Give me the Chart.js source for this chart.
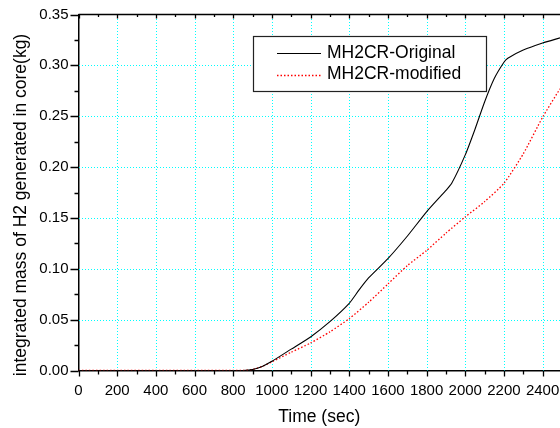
<!DOCTYPE html>
<html>
<head>
<meta charset="utf-8">
<script src="https://cdn.jsdelivr.net/npm/chart.js@4"></script>
<style>
  html, body { margin: 0; padding: 0; background: #fff; }
  #h2Chart { display: block; }
</style>
</head>
<body>
<canvas id="h2Chart" width="560" height="428"></canvas>
<script>
// values
const timeOriginal = [0, 200, 400, 600, 800, 850, 900, 950, 1000, 1100, 1200, 1300, 1400, 1450, 1500, 1600, 1700, 1800, 1900, 1930, 2000, 2050, 2100, 2150, 2200, 2220, 2300, 2400, 2490];
const massOriginal = [0, 0, 0, 0, 0, 0, 0.001, 0.004, 0.009, 0.021, 0.033, 0.048, 0.066, 0.079, 0.091, 0.110, 0.132, 0.156, 0.177, 0.184, 0.212, 0.237, 0.264, 0.287, 0.303, 0.307, 0.315, 0.322, 0.327];

const timeModified = [0, 200, 400, 600, 800, 850, 900, 950, 1000, 1100, 1200, 1300, 1400, 1500, 1600, 1700, 1800, 1900, 2000, 2100, 2200, 2300, 2400, 2490];
const massModified = [0, 0, 0, 0, 0, 0, 0.001, 0.004, 0.0085, 0.018, 0.027, 0.038, 0.051, 0.067, 0.085, 0.103, 0.118, 0.135, 0.151, 0.166, 0.184, 0.213, 0.249, 0.277];

const seriesNames = ["MH2CR-Original", "MH2CR-modified"];
const xTickValues = [0, 100, 200, 300, 400, 500, 600, 700, 800, 900, 1000, 1100, 1200, 1300, 1400, 1500, 1600, 1700, 1800, 1900, 2000, 2100, 2200, 2300, 2400];
const yTickValues = [0, 0.025, 0.05, 0.075, 0.10, 0.125, 0.15, 0.175, 0.20, 0.225, 0.25, 0.275, 0.30, 0.325, 0.35];
const xTitle = "Time (sec)";
const yTitle = "integrated mass of H2 generated in core(kg)";

const FONT = "'Liberation Sans', Arial, sans-serif";
const GRID = "#00ffff";

function toPoints(xs, ys) {
    return xs.map((x, i) => ({ x: x, y: ys[i] }));
}

function isMajorX(v) { return Math.round(v) % 200 === 0; }
function isMajorY(v) { return Math.abs(v / 0.05 - Math.round(v / 0.05)) < 1e-6; }

// crisp dotted cyan grid
const gridPlugin = {
    id: "dottedGrid",
    beforeDatasetsDraw(chart) {
        const ctx = chart.ctx;
        const area = chart.chartArea;
        const xs = chart.scales.x;
        const ys = chart.scales.y;
        ctx.save();
        ctx.strokeStyle = GRID;
        ctx.lineWidth = 1;
        ctx.setLineDash([1, 2]);
        ctx.beginPath();
        xTickValues.forEach(v => {
            if (!isMajorX(v) || v === 0) return;
            const px = Math.round(xs.getPixelForValue(v)) + 0.5;
            ctx.moveTo(px, Math.round(area.bottom));
            ctx.lineTo(px, Math.round(area.top));
        });
        yTickValues.forEach(v => {
            if (!isMajorY(v) || v === 0 || v >= 0.35) return;
            const py = Math.round(ys.getPixelForValue(v)) + 0.5;
            ctx.moveTo(Math.round(area.left), py);
            ctx.lineTo(Math.round(area.right), py);
        });
        ctx.stroke();
        ctx.restore();
    }
};

// ticks, top frame line, y title and legend box
const framePlugin = {
    id: "frame",
    afterDraw(chart) {
        const ctx = chart.ctx;
        const area = chart.chartArea;
        const xs = chart.scales.x;
        const ys = chart.scales.y;
        ctx.save();
        ctx.strokeStyle = "#000";
        ctx.lineWidth = 1.5;
        ctx.beginPath();
        ctx.moveTo(area.left, area.top);
        ctx.lineTo(area.right, area.top);
        ctx.stroke();

        ctx.lineWidth = 1.3;
        ctx.beginPath();
        xTickValues.forEach(v => {
            const px = Math.round(xs.getPixelForValue(v)) + 0.5;
            const len = isMajorX(v) ? 6 : 4;
            ctx.moveTo(px, area.bottom);
            ctx.lineTo(px, area.bottom + len);
            ctx.moveTo(px, area.top);
            ctx.lineTo(px, area.top + (isMajorX(v) ? 4 : 2.5));
        });
        yTickValues.forEach(v => {
            const py = Math.round(ys.getPixelForValue(v)) + 0.5;
            const len = isMajorY(v) ? 8 : 4;
            ctx.moveTo(area.left, py);
            ctx.lineTo(area.left - len, py);
        });
        ctx.stroke();

        // y axis title
        ctx.fillStyle = "#000";
        ctx.font = "17.5px " + FONT;
        ctx.textAlign = "center";
        ctx.textBaseline = "middle";
        ctx.translate(21, 205);
        ctx.rotate(-Math.PI / 2);
        ctx.fillText(yTitle, 0, 0);
        ctx.restore();

        // legend
        ctx.save();
        const bx = 253.5, by = 36.5, bw = 233, bh = 55;
        ctx.fillStyle = "#fff";
        ctx.fillRect(bx, by, bw, bh);
        ctx.strokeStyle = "#222";
        ctx.lineWidth = 1.2;
        ctx.strokeRect(bx, by, bw, bh);
        ctx.font = "17.5px " + FONT;
        ctx.textAlign = "left";
        ctx.textBaseline = "middle";
        chart.data.datasets.forEach((ds, i) => {
            const ly = 53 + i * 21.5;
            ctx.strokeStyle = ds.borderColor;
            ctx.lineWidth = ds.borderWidth;
            ctx.setLineDash(ds.borderDash || []);
            ctx.beginPath();
            ctx.moveTo(277, Math.round(ly) + 0.5);
            ctx.lineTo(321, Math.round(ly) + 0.5);
            ctx.stroke();
            ctx.setLineDash([]);
            ctx.fillStyle = "#000";
            ctx.fillText(ds.label, 327, ly);
        });
        ctx.restore();
    }
};

const chart = new Chart(document.getElementById("h2Chart"), {
    type: "line",
    data: {
        datasets: [
            {
                label: seriesNames[0],
                data: toPoints(timeOriginal, massOriginal),
                borderColor: "#000000",
                borderWidth: 1.1,
                pointRadius: 0,
                tension: 0.2,
                fill: false
            },
            {
                label: seriesNames[1],
                data: toPoints(timeModified, massModified),
                borderColor: "#ff0000",
                borderWidth: 1.3,
                borderDash: [1.5, 2],
                pointRadius: 0,
                tension: 0.2,
                fill: false
            }
        ]
    },
    options: {
        responsive: false,
        animation: false,
        layout: { padding: { top: 14.5, left: 0, right: 0, bottom: 0 } },
        plugins: {
            legend: { display: false },
            tooltip: { enabled: false }
        },
        scales: {
            x: {
                type: "linear",
                min: 0,
                max: 2490,
                afterBuildTicks: scale => { scale.ticks = xTickValues.map(v => ({ value: v })); },
                afterFit: scale => {
                    scale.height = 57.5;
                    scale.paddingLeft = 0;
                    scale.paddingRight = 0;
                },
                ticks: {
                    autoSkip: false,
                    maxRotation: 0,
                    padding: 11,
                    color: "#000",
                    font: { family: FONT, size: 15 },
                    callback: v => isMajorX(v) ? String(v) : ""
                },
                grid: { display: false, drawTicks: false },
                border: { display: true, color: "#000", width: 1.5 },
                title: {
                    display: true,
                    text: xTitle,
                    color: "#000",
                    font: { family: FONT, size: 17.5 },
                    padding: { top: 4, bottom: 0 }
                }
            },
            y: {
                min: 0,
                max: 0.35,
                afterBuildTicks: scale => { scale.ticks = yTickValues.map(v => ({ value: v })); },
                afterFit: scale => {
                    scale.width = 78.5;
                    scale.paddingTop = 0;
                    scale.paddingBottom = 0;
                },
                ticks: {
                    autoSkip: false,
                    padding: 10,
                    color: "#000",
                    font: { family: FONT, size: 15 },
                    callback: v => isMajorY(v) ? v.toFixed(2) : ""
                },
                grid: { display: false, drawTicks: false },
                border: { display: true, color: "#000", width: 1.5 }
            }
        }
    },
    plugins: [gridPlugin, framePlugin]
});
</script>
</body>
</html>
